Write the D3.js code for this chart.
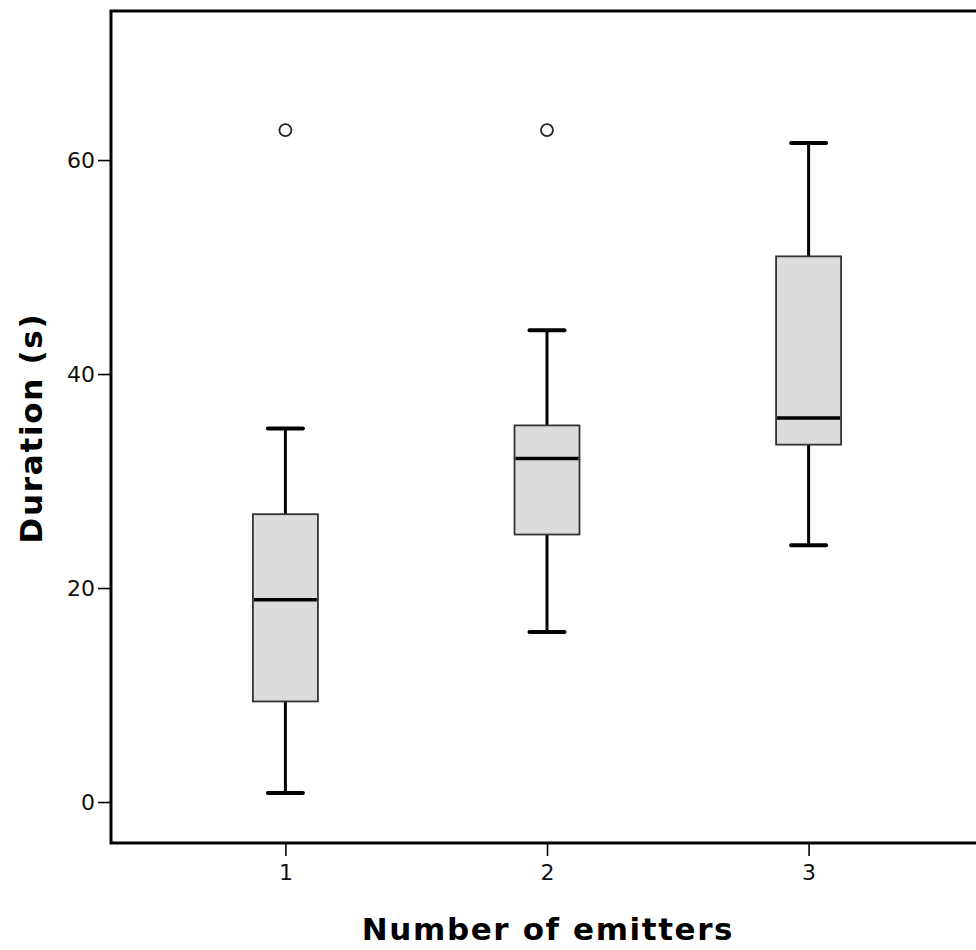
<!DOCTYPE html>
<html>
<head>
<meta charset="utf-8">
<script src="https://cdn.jsdelivr.net/npm/d3@7/dist/d3.min.js"></script>
<style>
  html, body { margin: 0; padding: 0; background: #fff; }
  svg { display: block; }
</style>
</head>
<body>
<div id="chart"></div>
<script>
// ---- data ----
const categories = ["1", "2", "3"];
const whiskerLow  = [0.85, 15.9, 24.0];
const q1          = [9.4, 25.0, 33.4];
const median      = [18.9, 32.1, 35.9];
const q3          = [26.9, 35.2, 51.0];
const whiskerHigh = [34.9, 44.1, 61.6];
const outliers    = [[62.8], [62.8], []];
const yTicks      = [0, 20, 40, 60];
const xTitle = "Number of emitters";
const yTitle = "Duration (s)";

const W = 976, H = 950;
const plot = { left: 111, top: 11, bottom: 843, right: 983 };

const svg = d3.select("#chart").append("svg")
  .attr("width", W).attr("height", H);

const x = d3.scaleLinear().domain([1 / 3, 11 / 3]).range([plot.left, plot.right]);
const y = d3.scaleLinear().domain([-3.83, 73.93]).range([plot.bottom, plot.top]);

const font = "'DejaVu Sans', Verdana, sans-serif";

// axes (ticks + labels)
const yAxis = svg.append("g").attr("transform", `translate(${plot.left},0)`)
  .call(d3.axisLeft(y).tickValues(yTicks).tickSize(13).tickPadding(3).tickFormat(d3.format("d")));
yAxis.select(".domain").remove();
yAxis.selectAll(".tick line").attr("stroke", "#000").attr("stroke-width", 1.6);
yAxis.selectAll(".tick text").attr("font-family", font).attr("font-size", 22).attr("fill", "#111");

const xAxis = svg.append("g").attr("transform", `translate(0,${plot.bottom})`)
  .call(d3.axisBottom(x).tickValues([1, 2, 3]).tickSize(13).tickPadding(8).tickFormat((d, i) => categories[i]));
xAxis.select(".domain").remove();
xAxis.selectAll(".tick line").attr("stroke", "#000").attr("stroke-width", 1.6);
xAxis.selectAll(".tick text").attr("font-family", font).attr("font-size", 22).attr("fill", "#111");

// frame
svg.append("rect")
  .attr("x", plot.left).attr("y", plot.top)
  .attr("width", plot.right - plot.left).attr("height", plot.bottom - plot.top)
  .attr("fill", "none").attr("stroke", "#000").attr("stroke-width", 3);

const boxW = 65, capW = 35;
const g = svg.append("g");
categories.forEach((c, i) => {
  const cx = x(i + 1);
  // whiskers
  g.append("line").attr("x1", cx).attr("x2", cx).attr("y1", y(whiskerHigh[i])).attr("y2", y(q3[i]))
    .attr("stroke", "#000").attr("stroke-width", 3);
  g.append("line").attr("x1", cx).attr("x2", cx).attr("y1", y(q1[i])).attr("y2", y(whiskerLow[i]))
    .attr("stroke", "#000").attr("stroke-width", 3);
  // caps
  [whiskerHigh[i], whiskerLow[i]].forEach(v => {
    g.append("line").attr("x1", cx - capW / 2).attr("x2", cx + capW / 2).attr("y1", y(v)).attr("y2", y(v))
      .attr("stroke", "#000").attr("stroke-width", 4).attr("stroke-linecap", "round");
  });
  // box
  g.append("rect").attr("x", cx - boxW / 2).attr("width", boxW)
    .attr("y", y(q3[i])).attr("height", y(q1[i]) - y(q3[i]))
    .attr("fill", "#dcdcdc").attr("stroke", "#333").attr("stroke-width", 1.8);
  // median
  g.append("line").attr("x1", cx - boxW / 2 + 1).attr("x2", cx + boxW / 2 - 1)
    .attr("y1", y(median[i])).attr("y2", y(median[i]))
    .attr("stroke", "#000").attr("stroke-width", 3.5);
  // outliers
  outliers[i].forEach(v => {
    g.append("circle").attr("cx", cx).attr("cy", y(v)).attr("r", 6)
      .attr("fill", "#fff").attr("stroke", "#222").attr("stroke-width", 1.8);
  });
});

// titles
svg.append("text")
  .attr("x", (plot.left + plot.right) / 2 + 1).attr("y", 940)
  .attr("text-anchor", "middle")
  .attr("font-family", font).attr("font-weight", "bold").attr("font-size", 31)
  .attr("letter-spacing", "1.6px").attr("fill", "#000")
  .text(xTitle);

svg.append("text")
  .attr("transform", `translate(42,${(plot.top + plot.bottom) / 2 + 1}) rotate(-90)`)
  .attr("text-anchor", "middle")
  .attr("font-family", font).attr("font-weight", "bold").attr("font-size", 31)
  .attr("letter-spacing", "1.7px").attr("fill", "#000")
  .text(yTitle);
</script>
</body>
</html>
